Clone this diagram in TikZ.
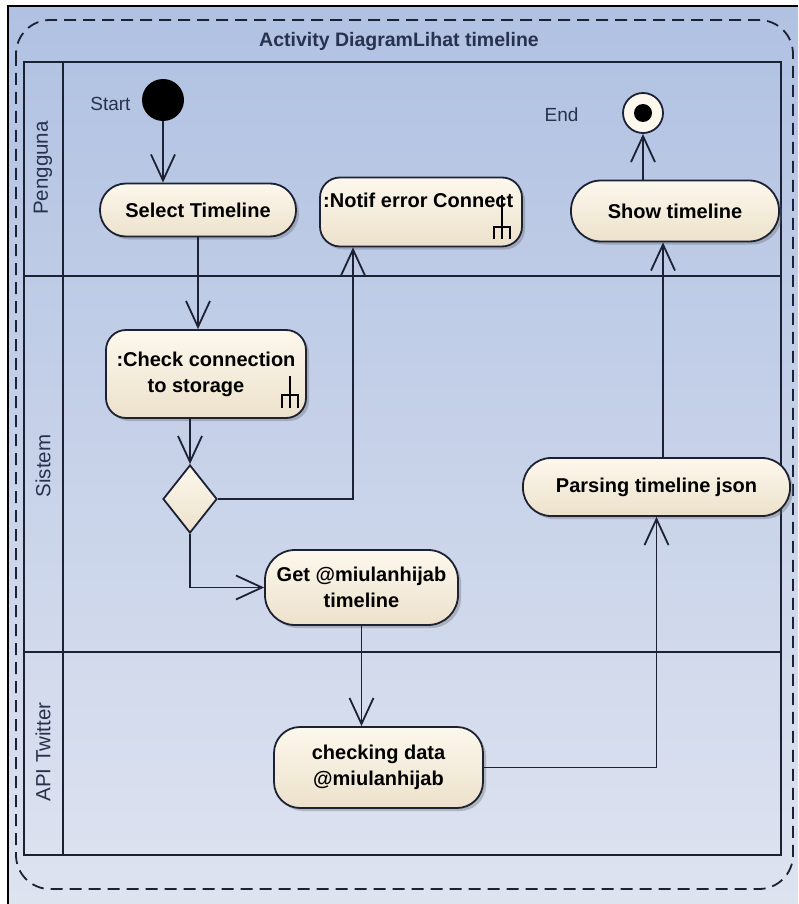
\documentclass[tikz,border=0pt]{standalone}
\usepackage{fontspec}
\setmainfont{Liberation Sans}
\usetikzlibrary{arrows.meta,shapes.geometric,shadows,calc}
\definecolor{bgtop}{RGB}{176,193,226}
\definecolor{bgbot}{RGB}{222,227,240}
\definecolor{creamA}{RGB}{253,248,237}
\definecolor{creamB}{RGB}{236,225,203}
\definecolor{ink}{RGB}{28,34,52}
\definecolor{lbl}{RGB}{40,50,78}
\tikzset{
  act/.style={draw=ink, line width=1.8pt, top color=creamA, bottom color=creamB,
    font=\bfseries\fontsize{20}{26}\selectfont, text=black, align=center, inner sep=0pt,
    drop shadow={shadow xshift=3pt, shadow yshift=-3pt, opacity=0.35, fill=black!60}},
  arr/.style={draw=ink, line width=1.9pt, -{Straight Barb[length=26pt,width=24pt,line width=1.8pt]}},
  lane/.style={draw=ink, line width=2.2pt},
  lanelbl/.style={rotate=90, font=\fontsize{20.5}{22}\selectfont, text=lbl},
  plain/.style={font=\fontsize{19}{22}\selectfont, text=lbl},
  rake/.style={draw=black, line width=1.4pt}
}
\begin{document}
\begin{tikzpicture}[x=1pt,y=-1pt]
\useasboundingbox (0,0) rectangle (798,904);
% background
\fill[white] (0,0) rectangle (798,904);
\shade[top color=bgtop, bottom color=bgbot] (8,6) rectangle (798,904);
\draw[black, line width=2.5pt] (8,904) -- (8,6) -- (798,6);
% dashed frame
\draw[ink, line width=1.8pt, dash pattern=on 12pt off 7pt, rounded corners=34pt] (16,20) rectangle (793,889);
\node[font=\bfseries\fontsize{19.5}{22}\selectfont, text=lbl] (title) at (399,42) {Activity DiagramLihat timeline};
% lanes
\draw[lane] (24,62) rectangle (781,855);
\draw[lane] (63,62) -- (63,855);
\draw[lane] (24,276) -- (781,276);
\draw[lane] (24,652) -- (781,652);
\node[lanelbl] (l1) at (43,168) {Pengguna};
\node[lanelbl] (l2) at (43,466) {Sistem};
\node[lanelbl] (l3) at (43,752) {API Twitter};
% start / end
\node[circle, fill=black, minimum size=42pt, inner sep=0pt] (start) at (163,100) {};
\node[plain, anchor=east] (startl) at (134,104) {Start};
\node[circle, draw=ink, line width=1.8pt, fill=creamA, minimum size=40pt, inner sep=0pt] (end) at (643,113) {};
\fill[black] (end.center) circle (9pt);
\node[plain, anchor=east] (endl) at (582,115) {End};
% activities
\node[act, rounded corners=26pt, minimum width=196pt, minimum height=53pt] (sel) at (198,210) {Select Timeline};
\node[act, rounded corners=20pt, minimum width=202pt, minimum height=69pt] (notif) at (421,212) {};
\node[font=\bfseries\fontsize{20}{26}\selectfont, anchor=west, inner sep=0pt] (notift) at (323,200) {:Notif error Connect};
\node[act, rounded corners=30pt, minimum width=208pt, minimum height=61pt] (show) at (675,211) {Show timeline};
\node[act, rounded corners=20pt, minimum width=200pt, minimum height=88pt] (check) at (206,374) {:Check connection\\to storage\hspace*{20pt}};
\node[diamond, draw=ink, line width=1.8pt, top color=creamA, bottom color=creamB, minimum width=54pt, minimum height=68pt, inner sep=0pt] (dec) at (190,499) {};
\node[act, rounded corners=30pt, minimum width=193pt, minimum height=75pt] (get) at (361.5,587.5) {Get @miulanhijab\\timeline};
\node[act, rounded corners=28pt, minimum width=267pt, minimum height=58pt] (parse) at (656.5,487) {Parsing timeline json};
\node[act, rounded corners=26pt, minimum width=209pt, minimum height=81pt] (chk) at (378.5,767.5) {checking data\\@miulanhijab};
% rake icons
\draw[rake] (502,195) -- (502,227) (494,239) -- (494,227) -- (510,227) -- (510,239) (502,227) -- (502,239);
\draw[rake] (290,376) -- (290,395) (282,408) -- (282,395) -- (298,395) -- (298,408) (290,395) -- (290,408);
% connectors
\draw[arr] (start.south) -- (start.south |- sel.north);
\draw[arr] (sel.south) -- (sel.south |- check.north);
\draw[arr] (check.south -| dec.north) -- (dec.north);
\draw[arr] (dec.east) -| ([xshift=-68pt]notif.south);
\draw[arr] (dec.south) |- (get.west);
\draw[arr] (get.south) -- (get.south |- chk.north);
\draw[arr] (chk.east) -| (parse.south);
\draw[arr] ([xshift=6.5pt]parse.north) -- ([xshift=6.5pt]parse.north |- show.south);
\draw[arr] (show.north -| end.south) -- (end.south);
\end{tikzpicture}
\end{document}
